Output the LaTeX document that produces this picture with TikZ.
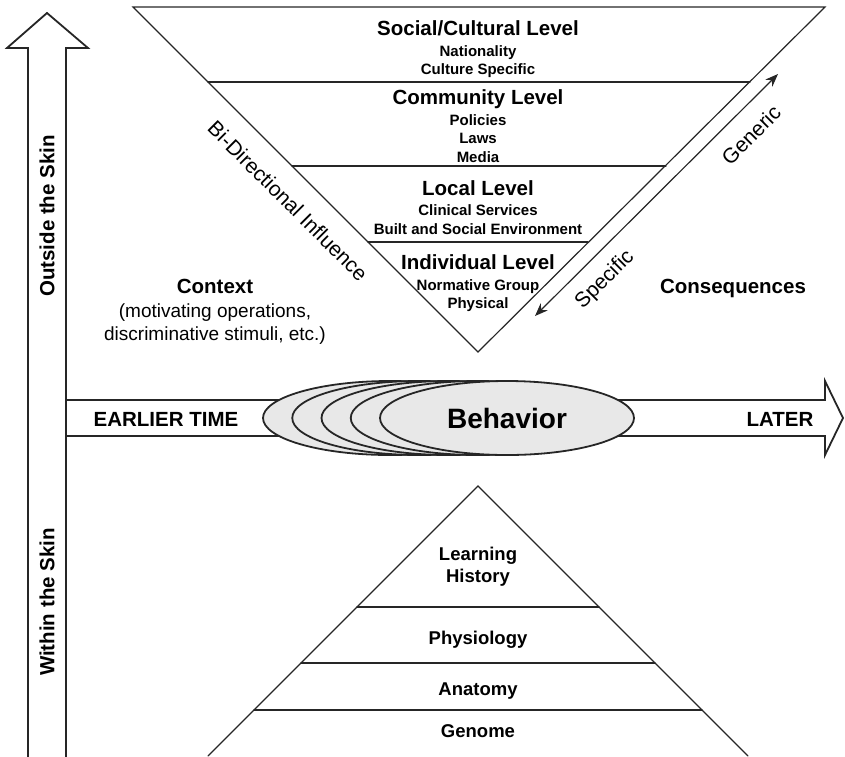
\documentclass[tikz,border=0pt]{standalone}
\usepackage{fontspec}
\setmainfont{Liberation Sans}
\usetikzlibrary{shapes.geometric,arrows.meta}

\tikzset{
  ln/.style={draw=black!85, line width=1.2pt},
  bigarrow/.style={draw=black!85, line width=1.8pt, line join=miter},
  title/.style={font=\fontsize{20.5}{23}\selectfont\bfseries},
  item/.style={font=\fontsize{15}{18}\selectfont\bfseries},
  lower/.style={font=\fontsize{18.5}{22}\selectfont\bfseries},
  plain/.style={font=\fontsize{19}{22}\selectfont},
  slant/.style={font=\fontsize{21}{23}\selectfont, inner sep=0pt},
  behbox/.style={ellipse, draw=black!85, line width=1.8pt, fill=black!9,
    minimum width=254pt, minimum height=74pt, inner sep=0pt},
}

\begin{document}
\begin{tikzpicture}[x=1pt, y=-1pt, line cap=round]
  \useasboundingbox (0,0) rectangle (845,756);
  % within / outside the skin
  \draw[bigarrow, fill=white] (28,770) -- (28,48) -- (7,48) -- (47,13) -- (88,48) -- (66,48) -- (66,770);
  \node[title, rotate=90] (outside) at (47,216) {Outside the Skin};
  \node[title, rotate=90] (within) at (47,602) {Within the Skin};
  % time axis
  \draw[bigarrow] (66,400) -- (825,400) -- (825,381) -- (843,418) -- (825,455) -- (825,436) -- (66,436);
  \node[title, anchor=base] (earlier) at (166,426) {EARLIER TIME};
  \node[title, anchor=base] (later) at (780,426) {LATER};
  % behavior, repeated over time
  \foreach \i in {4,3,2,1} {
    \node[behbox] (ghost\i) at ({507-29.25*\i},418) {};
  }
  \node[behbox, font=\fontsize{28}{30}\selectfont\bfseries] (behavior) at (507,418) {Behavior};

  % outside: levels (inverted triangle)
  \draw[ln] (133,7) -- (825,7) -- (478,352) -- cycle;
  \draw[ln] (208,82) -- (750,82);
  \draw[ln] (292,166) -- (666,166);
  \draw[ln] (368,242) -- (588,242);
  \node[title, anchor=base] (social) at (478,35) {Social/Cultural Level};
  \node[title, anchor=base] (community) at (478,104) {Community Level};
  \node[title, anchor=base] (local) at (478,195) {Local Level};
  \node[title, anchor=base] (individual) at (478,269) {Individual Level};
  \foreach \t/\y in {Nationality/56, Culture Specific/74, Policies/125, Laws/143, Media/162,
                     Clinical Services/215, Built and Social Environment/234,
                     Normative Group/290, Physical/308} {
    \node[item, anchor=base] (item\y) at (478,\y) {\t};
  }
  \node[slant, rotate=-45] (bidir) at (288,201) {Bi-Directional Influence};
  % specific <-> generic
  \coordinate (specend) at (535,316);
  \coordinate (genend) at (778,74);
  \draw[ln, {Stealth[length=13pt,width=10pt]}-{Stealth[length=13pt,width=10pt]}] (specend) -- (genend);
  \node[slant, rotate=45] (generic) at (751,135) {Generic};
  \node[slant, rotate=45] (specific) at (605,280) {Specific};

  % context and consequences
  \node[title, anchor=base] (context) at (215,293) {Context};
  \node[plain, anchor=base] (context1) at (215,317) {(motivating operations,};
  \node[plain, anchor=base] (context2) at (215,340) {discriminative stimuli, etc.)};
  \node[title, anchor=base] (conseq) at (733,293) {Consequences};

  % within: pyramid
  \draw[ln] (208,756) -- (478,486) -- (748,756);
  \draw[ln] (357,607) -- (599,607);
  \draw[ln] (301,663) -- (655,663);
  \draw[ln] (254,710) -- (702,710);
  \node[lower, anchor=base] (learning) at (478,560) {Learning};
  \node[lower, anchor=base] (history) at (478,582) {History};
  \node[lower, anchor=base] (physiology) at (478,644) {Physiology};
  \node[lower, anchor=base] (anatomy) at (478,695) {Anatomy};
  \node[lower, anchor=base] (genome) at (478,737) {Genome};
\end{tikzpicture}
\end{document}
